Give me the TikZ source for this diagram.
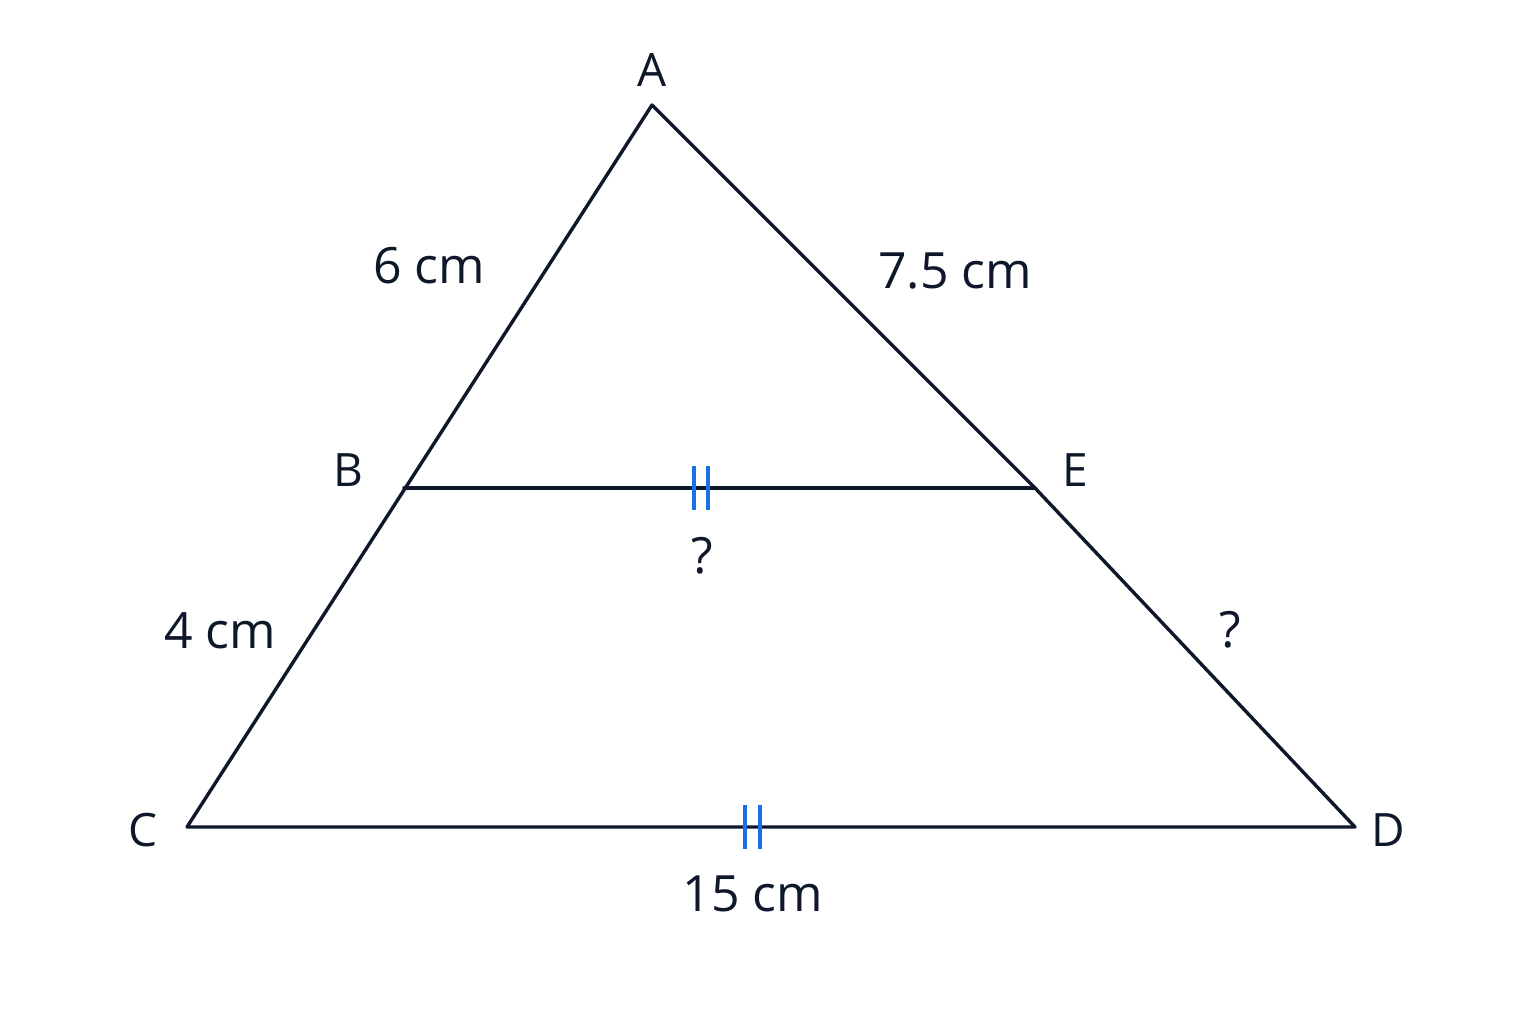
\documentclass[tikz,border=0pt]{standalone}
\usepackage{fontspec}
\setmainfont{Open Sans}
\definecolor{ink}{HTML}{0F172A}
\definecolor{tickblue}{HTML}{1D6FE6}
\begin{document}
\begin{tikzpicture}[x=1pt,y=-1pt,
  seg/.style={draw=ink,line width=3.4pt,line join=round,line cap=round},
  tickmark/.style={draw=tickblue,line width=4pt},
  vlabel/.style={font=\fontsize{46}{50}\selectfont,text=ink,inner sep=0pt},
  mlabel/.style={font=\fontsize{50}{54}\selectfont,text=ink,inner sep=0pt}]
\useasboundingbox[fill=white] (0,0) rectangle (1536,1024);
\coordinate (A) at (652,105);
\coordinate (B) at (404,488);
\coordinate (E) at (1035,488);
\coordinate (C) at (187,827);
\coordinate (D) at (1355,827);
\draw[seg] (A) -- (E) -- (D) -- (C) -- cycle;
\draw[seg] (B) -- (E);
% ticks
\coordinate (t1) at (701,488);
\coordinate (t2) at (752,827);
\draw[tickmark] ([xshift=-7]t1) ++(0,-22) -- ++(0,44);
\draw[tickmark] ([xshift=7]t1) ++(0,-22) -- ++(0,44);
\draw[tickmark] ([xshift=-7.5]t2) ++(0,-22) -- ++(0,44);
\draw[tickmark] ([xshift=7.5]t2) ++(0,-22) -- ++(0,44);
% vertex labels
\node[vlabel] (lA) at (652,70) {A};
\node[vlabel] (lB) at (348,470) {B};
\node[vlabel] (lE) at (1075,470) {E};
\node[vlabel] (lC) at (143,830) {C};
\node[vlabel] (lD) at (1388,830) {D};
% measure labels
\node[mlabel] (m1) at (429,266) {6 cm};
\node[mlabel] (m2) at (955,271) {7.5 cm};
\node[mlabel] (m3) at (220,631) {4 cm};
\node[mlabel] (m4) at (702,556) {?};
\node[mlabel] (m5) at (1230,630) {?};
\node[mlabel] (m6) at (753,894) {15 cm};
\end{tikzpicture}
\end{document}
